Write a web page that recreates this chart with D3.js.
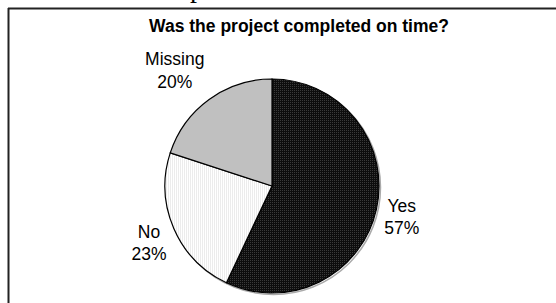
<!DOCTYPE html>
<html>
<head>
<meta charset="utf-8">
<script src="https://cdn.jsdelivr.net/npm/d3@7"></script>
<style>
  body { margin:0; background:#fff; }
  svg { display:block; }
  text { font-family: Arial, "Liberation Sans", sans-serif; fill:#000; }
</style>
</head>
<body>
<script>
// chart data
var categories = ["Yes", "No", "Missing"];
var percents = [57, 23, 20];
var sliceFills = ["url(#darkDots)", "url(#lightDots)", "#c0c0c0"];
var title = "Was the project completed on time?";

var width = 556, height = 303;
var cx = 272, cy = 186, r = 107;

var svg = d3.select("body").append("svg")
    .attr("width", width)
    .attr("height", height);

// fine dither patterns like the original print
var defs = svg.append("defs");
var dark = defs.append("pattern").attr("id", "darkDots")
    .attr("patternUnits", "userSpaceOnUse").attr("width", 2).attr("height", 2);
dark.append("rect").attr("width", 2).attr("height", 2).attr("fill", "#0d0d0d");
dark.append("rect").attr("width", 1).attr("height", 1).attr("fill", "#3a3a3a");
var light = defs.append("pattern").attr("id", "lightDots")
    .attr("patternUnits", "userSpaceOnUse").attr("width", 2).attr("height", 2);
light.append("rect").attr("width", 2).attr("height", 2).attr("fill", "#ffffff");
light.append("rect").attr("width", 1).attr("height", 2).attr("fill", "#ececec");

// bit of cropped text from the page above
svg.append("text")
    .attr("x", 190).attr("y", -3)
    .style("font-family", "'Liberation Serif', serif")
    .style("font-size", "28px")
    .text("p");

// frame (cropped on right and bottom)
svg.append("line")
    .attr("x1", 8).attr("y1", 8.5).attr("x2", width).attr("y2", 8.5)
    .attr("stroke", "#222").attr("stroke-width", 2);
svg.append("line")
    .attr("x1", 8.5).attr("y1", 8).attr("x2", 8.5).attr("y2", height)
    .attr("stroke", "#222").attr("stroke-width", 2);

svg.append("text")
    .attr("x", 299).attr("y", 32)
    .attr("text-anchor", "middle")
    .style("font-weight", "bold")
    .style("font-size", "17.5px")
    .text(title);

var pie = d3.pie().sort(null);
var arc = d3.arc().innerRadius(0).outerRadius(r);

var g = svg.append("g").attr("transform", "translate(" + cx + "," + cy + ")");

// faint shadow ring on the right like the scan
g.append("circle").attr("cx", 1.5).attr("cy", 1.5).attr("r", r)
    .attr("fill", "none").attr("stroke", "#aaa").attr("stroke-width", 1.5);

var arcs = g.selectAll(".arc")
    .data(pie(percents))
    .enter()
    .append("g")
    .classed("arc", true);

arcs.append("path")
    .attr("d", arc)
    .attr("fill", function(d, i) { return sliceFills[i]; })
    .attr("stroke", "#000")
    .attr("stroke-width", 1.2);

var gap = 8, lineH = 22.5, fs = 17.5, labelH = 28;
arcs.each(function(d, i) {
    var mid = (d.startAngle + d.endAngle) / 2;
    var dx = Math.sin(mid), dy = -Math.cos(mid);
    var t = d3.select(this).append("text")
        .attr("text-anchor", "middle")
        .style("font-size", fs + "px");
    t.append("tspan").attr("x", 0).attr("dy", 0).text(categories[i]);
    t.append("tspan").attr("x", 0).attr("dy", lineH).text(d.data + "%");
    var bb = t.node().getBBox();
    var x = dx * (r + gap) + Math.sign(dx) * bb.width / 2;
    var y = dy * (r + gap) + dy * labelH;
    // bbox center relative to first baseline
    var off = bb.y + bb.height / 2;
    t.attr("transform", "translate(" + x + "," + (y - off) + ")");
});
</script>
</body>
</html>
